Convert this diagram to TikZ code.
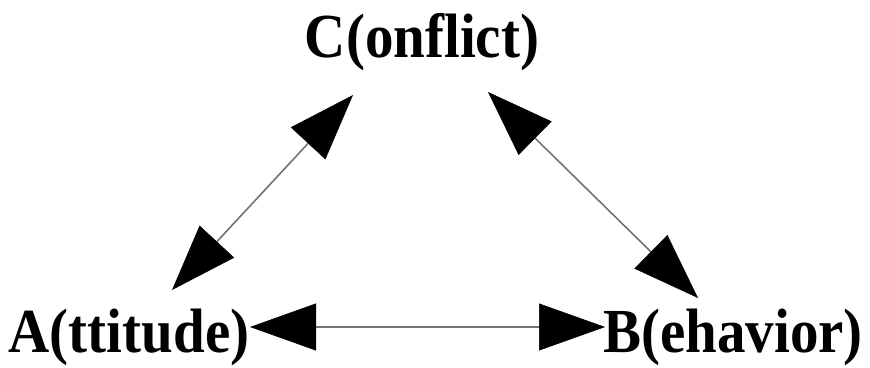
\documentclass[tikz,border=0pt]{standalone}
\usepackage{fontspec}
\setmainfont{Liberation Serif}
\usetikzlibrary{arrows.meta}
\tikzset{
  lbl/.style={anchor=base, inner sep=0pt, font=\fontsize{57}{60}\selectfont\bfseries},
  bighead/.style={Triangle[length=66pt,width=47pt,color=black,line width=0.5pt]},
  link/.style={draw=black!55, line width=1.6pt, {Triangle[length=66pt,width=47pt,color=black,line width=0.5pt]}-{Triangle[length=66pt,width=47pt,color=black,line width=0.5pt]}}
}
\newcommand{\tallword}[1]{\scalebox{1}[1.1]{#1}}
\begin{document}
\begin{tikzpicture}[x=1pt,y=1pt]
\useasboundingbox (0,0) rectangle (870,367);
\node[lbl] (C) at (422,309) {\tallword{C(onflict)}};
\node[lbl] (A) at (129,15) {\tallword{A(ttitude)}};
\node[lbl] (B) at (733,15) {\tallword{B(ehavior)}};
\coordinate (al) at (172,77);
\coordinate (cl) at (353,272);
\coordinate (cr) at (488,275);
\coordinate (br) at (698,69);
\coordinate (ah) at (250,40);
\coordinate (bh) at (605,40);
\draw[link] (al) -- (cl);
\draw[link] (cr) -- (br);
\draw[link] (ah) -- (bh);
\end{tikzpicture}
\end{document}
